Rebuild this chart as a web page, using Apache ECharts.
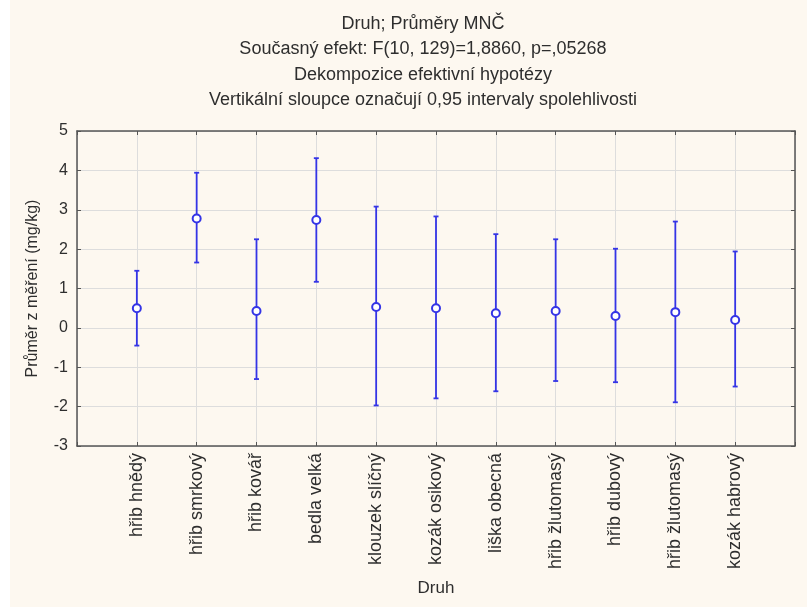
<!DOCTYPE html>
<html>
<head>
<meta charset="utf-8">
<script src="https://cdn.jsdelivr.net/npm/echarts@6/dist/echarts.min.js"></script>
<style>
html,body{margin:0;padding:0;background:#fff;}
#chart{width:807px;height:607px;background:linear-gradient(to right,#ffffff 10px,#fdf8f0 10px);}
</style>
</head>
<body>
<div id="chart"></div>
<script>
var titleLines = ['Druh; Průměry MNČ', 'Současný efekt: F(10, 129)=1,8860, p=,05268', 'Dekompozice efektivní hypotézy', 'Vertikální sloupce označují 0,95 intervaly spolehlivosti'];
var categories = ['hřib hnědý','hřib smrkový','hřib kovář','bedla velká','klouzek slíčný','kozák osikový','liška obecná','hřib žlutomasý','hřib dubový','hřib žlutomasý','kozák habrový'];
var means = [0.50, 2.78, 0.43, 2.74, 0.53, 0.50, 0.37, 0.43, 0.30, 0.40, 0.20];
var upper = [1.45, 3.94, 2.25, 4.31, 3.08, 2.83, 2.38, 2.25, 2.01, 2.70, 1.94];
var lower = [-0.45, 1.66, -1.30, 1.17, -1.97, -1.79, -1.61, -1.35, -1.38, -1.89, -1.49];
var yTicks = [-3, -2, -1, 0, 1, 2, 3, 4, 5];
var xName = 'Druh';
var yName = 'Průměr z měření (mg/kg)';

var blue = '#3434e6';
var textColor = '#2e2e2e';
var font = 'Liberation Sans, Arial, sans-serif';

var chart = echarts.init(document.getElementById('chart'));
var meanData = means.map(function (m, i) { return [i, m]; });
var errData = means.map(function (m, i) { return [i, lower[i], upper[i]]; });

var axisLineStyle = { color: '#555555', width: 1.5 };
var option = {
  animation: false,
  backgroundColor: 'transparent',
  title: titleLines.map(function (t, i) {
    return {
      text: t, left: 418, top: 10 + i * 25.5, textAlign: 'center',
      textStyle: { fontFamily: font, fontSize: 18, fontWeight: 'normal', color: textColor }
    };
  }),
  grid: { left: 77, right: 12, top: 131, bottom: 161 },
  xAxis: [{
    type: 'value', min: -1, max: 11, interval: 1, position: 'bottom',
    name: xName, nameLocation: 'middle', nameGap: 134,
    nameTextStyle: { fontFamily: font, fontSize: 17, color: textColor },
    axisLine: { show: true, onZero: false, lineStyle: axisLineStyle },
    axisTick: { show: true, inside: true, length: 4, lineStyle: { color: '#555555' } },
    axisLabel: {
      rotate: 90, margin: 7, fontFamily: font, fontSize: 18, color: textColor,
      formatter: function (v) { return (v >= 0 && v < categories.length) ? categories[v] : ''; }
    },
    splitLine: { show: true, lineStyle: { color: '#dddddd', width: 1 } }
  }, {
    type: 'value', min: -1, max: 11, interval: 1, position: 'top',
    axisLine: { show: true, onZero: false, lineStyle: axisLineStyle },
    axisTick: { show: true, inside: true, length: 4, lineStyle: { color: '#555555' } },
    axisLabel: { show: false },
    splitLine: { show: false }
  }],
  yAxis: [{
    type: 'value', min: yTicks[0], max: yTicks[yTicks.length - 1], interval: 1, position: 'left',
    name: yName, nameLocation: 'middle', nameGap: 36,
    nameTextStyle: { fontFamily: font, fontSize: 16, color: textColor },
    axisLine: { show: true, onZero: false, lineStyle: axisLineStyle },
    axisTick: { show: true, inside: true, length: 4, lineStyle: { color: '#555555' } },
    axisLabel: { margin: 9, fontFamily: font, fontSize: 16, color: textColor },
    splitLine: { show: true, lineStyle: { color: '#dddddd', width: 1 } }
  }, {
    type: 'value', min: yTicks[0], max: yTicks[yTicks.length - 1], interval: 1, position: 'right',
    axisLine: { show: true, onZero: false, lineStyle: axisLineStyle },
    axisTick: { show: true, inside: true, length: 4, lineStyle: { color: '#555555' } },
    axisLabel: { show: false },
    splitLine: { show: false }
  }],
  series: [{
    type: 'custom',
    xAxisIndex: 0, yAxisIndex: 0,
    data: errData,
    renderItem: function (params, api) {
      var x = api.value(0);
      var lo = api.coord([x, api.value(1)]);
      var hi = api.coord([x, api.value(2)]);
      var cap = 2.5;
      var st = { stroke: blue, lineWidth: 1.8, fill: null };
      return {
        type: 'group',
        children: [
          { type: 'line', shape: { x1: lo[0], y1: lo[1], x2: hi[0], y2: hi[1] }, style: st },
          { type: 'line', shape: { x1: lo[0] - cap, y1: lo[1], x2: lo[0] + cap, y2: lo[1] }, style: st },
          { type: 'line', shape: { x1: hi[0] - cap, y1: hi[1], x2: hi[0] + cap, y2: hi[1] }, style: st }
        ]
      };
    },
    z: 3
  }, {
    type: 'scatter',
    xAxisIndex: 0, yAxisIndex: 0,
    data: meanData,
    symbol: 'circle',
    symbolSize: 8,
    itemStyle: { color: '#ffffff', borderColor: blue, borderWidth: 2, opacity: 1 },
    z: 4
  }]
};
chart.setOption(option);
</script>
</body>
</html>
